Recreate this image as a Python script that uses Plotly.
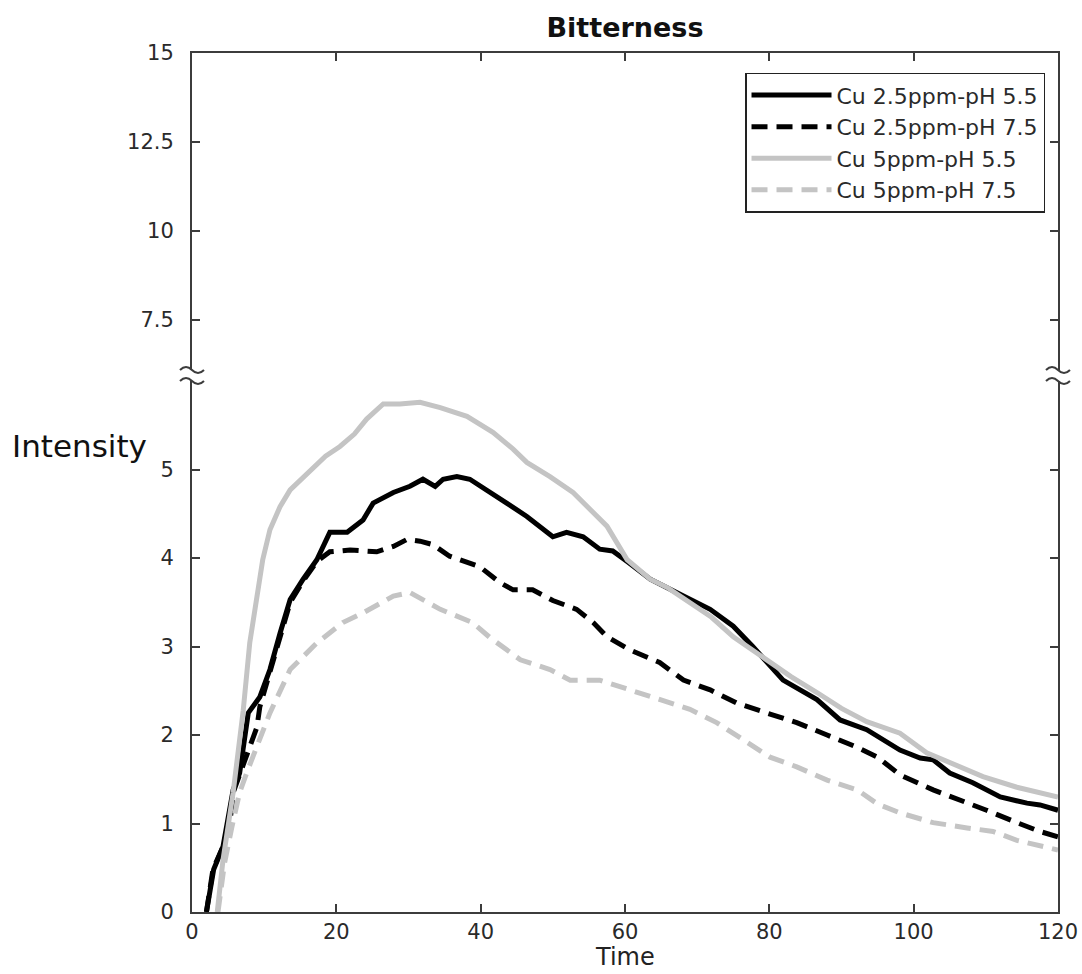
import plotly.graph_objects as go

# ---- data ----
t_cu25_ph55 = [2, 3, 4.3, 5.7, 6.6, 7.8, 9.4, 10.8, 12.2, 13.6, 15.4, 17.3, 19.1, 21.5, 23.7, 25.1, 27.9,
               30.2, 32.0, 33.7, 34.8, 36.7, 38.5, 40.9, 43.6, 46.4, 48.6, 50.0, 51.9, 54.2, 56.5, 58.3,
               60.3, 63.5, 68.1, 71.8, 75.0, 77.7, 81.9, 86.6, 89.8, 93.5, 98.1, 100.9, 102.7, 105.0,
               108.2, 112.0, 115.7, 117.5, 120]
v_cu25_ph55 = [0, 0.48, 0.74, 1.38, 1.57, 2.25, 2.43, 2.74, 3.15, 3.53, 3.76, 3.98, 4.29, 4.29, 4.43, 4.62, 4.74,
               4.81, 4.89, 4.81, 4.89, 4.92, 4.89, 4.77, 4.62, 4.47, 4.32, 4.24, 4.29, 4.24, 4.10, 4.08,
               3.96, 3.76, 3.57, 3.42, 3.23, 3.00, 2.62, 2.40, 2.17, 2.06, 1.83, 1.74, 1.72, 1.57,
               1.46, 1.30, 1.23, 1.21, 1.15]

t_cu25_ph75 = [2, 2.9, 4.3, 5.3, 5.7, 7.6, 9.0, 9.4, 10.8, 12.2, 13.6, 15.4, 17.3, 19.1, 21.9, 25.6, 27.9,
               29.8, 31.6, 33.4, 35.7, 37.1, 39.9, 42.7, 44.5, 47.2, 50.0, 53.3, 55.6, 57.5, 60.7, 64.8,
               68.1, 71.8, 75.5, 79.6, 83.8, 88.0, 92.2, 95.0, 98.1, 102.7, 106.4, 110.1, 114.3, 117.5, 120]
v_cu25_ph75 = [0, 0.48, 0.74, 1.04, 1.35, 1.80, 2.09, 2.32, 2.70, 3.12, 3.50, 3.74, 3.96, 4.07, 4.09, 4.07, 4.13,
               4.21, 4.19, 4.15, 4.02, 3.98, 3.90, 3.72, 3.64, 3.64, 3.52, 3.42, 3.27, 3.11, 2.96, 2.82,
               2.62, 2.51, 2.36, 2.25, 2.14, 2.00, 1.86, 1.75, 1.55, 1.38, 1.27, 1.15, 1.01, 0.91, 0.85]

t_cu5_ph55 = [3.5, 4.3, 5.7, 7.1, 8.0, 9.0, 9.8, 10.8, 12.2, 13.6, 15.0, 16.8, 18.5, 20.5, 22.5, 24.2, 26.5,
              28.8, 31.6, 34.4, 38.1, 41.7, 44.5, 46.4, 49.6, 52.8, 55.6, 57.5, 60.3, 63.5, 66.0, 69.0,
              72.0, 75.0, 79.6, 83.0, 86.6, 90.0, 93.5, 98.1, 101.8, 105.0, 109.6, 114.3, 120]
v_cu5_ph55 = [0, 0.59, 1.35, 2.28, 3.04, 3.61, 3.98, 4.32, 4.58, 4.77, 4.88, 5.03, 5.15, 5.26, 5.40, 5.57, 5.74,
              5.74, 5.76, 5.70, 5.60, 5.42, 5.23, 5.08, 4.92, 4.74, 4.51, 4.36, 3.98, 3.76, 3.66, 3.49,
              3.33, 3.11, 2.85, 2.66, 2.48, 2.30, 2.15, 2.02, 1.80, 1.69, 1.53, 1.41, 1.30]

t_cu5_ph75 = [3.6, 4.5, 5.5, 6.6, 7.8, 9.0, 10.8, 13.6, 17.3, 20.9, 23.7, 27.9, 30.2, 34.4, 38.9, 41.3, 45.5,
              49.6, 52.4, 56.5, 60.7, 64.8, 69.0, 72.7, 76.3, 80.1, 83.8, 88.0, 92.2, 95.0, 98.1, 102.7,
              107.4, 111.0, 114.3, 120]
v_cu5_ph75 = [0, 0.55, 0.95, 1.35, 1.62, 1.87, 2.25, 2.74, 3.04, 3.27, 3.38, 3.57, 3.61, 3.42, 3.27, 3.10, 2.85,
              2.74, 2.62, 2.62, 2.51, 2.40, 2.29, 2.14, 1.95, 1.75, 1.64, 1.49, 1.38, 1.22, 1.12, 1.01,
              0.95, 0.91, 0.81, 0.70]

series_names = ["Cu 2.5ppm-pH 5.5", "Cu 2.5ppm-pH 7.5", "Cu 5ppm-pH 5.5", "Cu 5ppm-pH 7.5"]

lower_ticks = [0, 1, 2, 3, 4, 5]
upper_ticks = [7.5, 10, 12.5, 15]
upper_tick_text = ["7.5", "10", "12.5", "15"]
x_ticks = [0, 20, 40, 60, 80, 100, 120]

# ---- styling ----
BLACK = "#000000"
GRAY = "#c4c4c4"
AX = "#3c3c3c"
FONT = "DejaVu Sans, Verdana, sans-serif"
W, H = 1082, 974
ML, MR, MT, MB = 192, 24, 53, 62
PW, PH = W - ML - MR, H - MT - MB

lower_top_px = 381   # top of lower axis (pixels from top)
upper_bot_px = 370   # bottom of upper axis
d_low = (H - MB - lower_top_px) / PH
d_up = (H - MB - upper_bot_px) / PH

fig = go.Figure()
styles = [
    (t_cu25_ph55, v_cu25_ph55, BLACK, "solid"),
    (t_cu25_ph75, v_cu25_ph75, BLACK, "16px,9px"),
    (t_cu5_ph55, v_cu5_ph55, GRAY, "solid"),
    (t_cu5_ph75, v_cu5_ph75, GRAY, "16px,9px"),
]
for name, (tx, vy, col, dash) in zip(series_names, styles):
    fig.add_trace(go.Scatter(x=tx, y=vy, mode="lines", name=name, legendgroup=name,
                             line=dict(color=col, width=5, dash=dash),
                             xaxis="x", yaxis="y"))
# empty trace to create upper subplot
fig.add_trace(go.Scatter(x=[], y=[], xaxis="x2", yaxis="y2", showlegend=False, hoverinfo="skip"))

tick_font = dict(family=FONT, size=21, color="#2a2a2a")
common = dict(showline=True, linecolor=AX, linewidth=2, ticks="inside", ticklen=8,
              tickcolor=AX, tickwidth=2, showgrid=False, zeroline=False, tickfont=tick_font,
              automargin=False)

fig.update_layout(
    template="none",
    width=W, height=H,
    margin=dict(l=ML, r=MR, t=MT, b=MB),
    paper_bgcolor="white", plot_bgcolor="white",
    title=dict(text="<b>Bitterness</b>", x=0.5, xref="paper", xanchor="center",
               y=1 - 28 / H, yref="container", yanchor="middle",
               font=dict(family=FONT, size=27, color="#111")),
    xaxis=dict(domain=[0, 1], anchor="y", range=[0, 120], tickvals=x_ticks, **common),
    yaxis=dict(domain=[0, d_low], anchor="x", range=[0, 6.0], tickvals=lower_ticks,
               mirror="ticks", ticklabelstandoff=12, **common),
    xaxis2=dict(domain=[0, 1], anchor="y2", side="top", range=[0, 120], tickvals=x_ticks,
                matches="x", showticklabels=False, **common),
    yaxis2=dict(domain=[d_up, 1], anchor="x2", range=[6.096, 15], tickvals=upper_ticks,
                ticktext=upper_tick_text, mirror="ticks", ticklabelstandoff=12, **common),
    legend=dict(x=0.985, y=0.977, xanchor="right", yanchor="top",
                bgcolor="white", bordercolor="#222", borderwidth=1.5,
                font=dict(family=FONT, size=22, color="#2a2a2a"),
                itemwidth=80, tracegroupgap=0),
    showlegend=True,
)

# axis labels as annotations
fig.add_annotation(text="Intensity", xref="paper", yref="paper",
                   x=(10 - ML) / PW, y=(H - MB - 446) / PH, xanchor="left", yanchor="middle",
                   showarrow=False, font=dict(family=FONT, size=31, color="#111"))
fig.add_annotation(text="Time", xref="paper", yref="paper",
                   x=0.5, y=(H - MB - 973) / PH, xanchor="center", yanchor="bottom",
                   showarrow=False, font=dict(family=FONT, size=24, color="#222"))

# axis-break marks (tildes) on both sides
def tilde(xc_px, yc_px):
    hw, amp = 12, 6
    x0 = (xc_px - hw) / PW
    xm = xc_px / PW
    x1 = (xc_px + hw) / PW
    yc = yc_px / PH
    qx = (xc_px - hw / 2) / PW
    qy = (yc_px + amp) / PH
    return f"M {x0},{yc} Q {qx},{qy} {xm},{yc} T {x1},{yc}"

for side_px in (0, PW):
    for ypx in (H - MB - upper_bot_px, H - MB - lower_top_px):
        fig.add_shape(type="path", xref="paper", yref="paper",
                      path=tilde(side_px, ypx), line=dict(color=AX, width=2))

fig.write_html("out.html")
